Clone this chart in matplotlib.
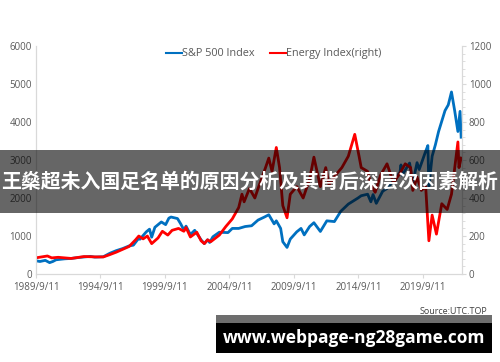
import pandas as pd
import matplotlib.pyplot as plt
from matplotlib.lines import Line2D
from matplotlib.patches import Rectangle
from matplotlib.ticker import MultipleLocator

# S&P 500 Index (left axis)
spx_dates = ["1989-09", "1990-01", "1990-06", "1990-10", "1991-01", "1991-04", "1991-12",
             "1992-06", "1993-01", "1993-12", "1994-04", "1994-12", "1995-06", "1995-12",
             "1996-06", "1996-12", "1997-04", "1997-09", "1997-10", "1998-04", "1998-07",
             "1998-09", "1998-12", "1999-06", "1999-10", "2000-01", "2000-03", "2000-09",
             "2000-12", "2001-03", "2001-05", "2001-09", "2002-01", "2002-07", "2002-10",
             "2003-01", "2003-03", "2003-06", "2003-12", "2004-08", "2004-12", "2005-06",
             "2005-12", "2006-06", "2006-12", "2007-06", "2007-10", "2008-03", "2008-05",
             "2008-09", "2008-11", "2009-03", "2009-06", "2009-12", "2010-04", "2010-07",
             "2010-12", "2011-04", "2011-10", "2012-04", "2012-11", "2013-05", "2013-12",
             "2014-09", "2014-12", "2015-06", "2015-09", "2015-11", "2016-02", "2016-08",
             "2016-12", "2017-12", "2018-01", "2018-02", "2018-09", "2018-12", "2019-04",
             "2019-06", "2019-12", "2020-02", "2020-03", "2020-06", "2020-09", "2020-12",
             "2021-06", "2021-09", "2021-12", "2022-03", "2022-06", "2022-08", "2022-09"]
spx_values = [350, 330, 360, 300, 330, 375, 400,
              410, 435, 465, 445, 455, 545, 615,
              670, 740, 760, 945, 915, 1110, 1180,
              970, 1230, 1370, 1300, 1470, 1500, 1460,
              1320, 1160, 1260, 1040, 1150, 900, 800,
              900, 830, 980, 1100, 1090, 1200, 1200,
              1250, 1270, 1420, 1500, 1560, 1320, 1400,
              1200, 850, 700, 920, 1110, 1200, 1030,
              1250, 1350, 1120, 1400, 1380, 1650, 1840,
              2000, 2060, 2100, 1900, 2090, 1860, 2180,
              2250, 2670, 2870, 2600, 2920, 2400, 2930,
              2750, 3230, 3380, 2300, 3100, 3400, 3750,
              4300, 4450, 4790, 4300, 3750, 4280, 3600]

# Energy Index (right axis)
energy_dates = ["1989-09", "1990-08", "1990-12", "1991-06", "1992-06", "1993-06", "1994-06",
                "1994-12", "1995-06", "1995-12", "1996-06", "1996-12", "1997-06", "1997-09",
                "1998-01", "1998-05", "1998-09", "1999-03", "1999-07", "1999-12", "2000-04",
                "2000-10", "2001-03", "2001-05", "2001-09", "2002-03", "2002-07", "2002-10",
                "2003-01", "2003-04", "2003-12", "2004-06", "2004-12", "2005-06", "2005-09",
                "2005-11", "2006-04", "2006-09", "2006-12", "2007-07", "2007-10", "2008-01",
                "2008-05", "2008-08", "2008-11", "2009-03", "2009-06", "2009-12", "2010-06",
                "2010-12", "2011-04", "2011-10", "2012-03", "2012-06", "2012-12", "2013-06",
                "2013-12", "2014-06", "2014-10", "2014-12", "2015-06", "2015-09", "2016-01",
                "2016-06", "2016-12", "2017-06", "2017-12", "2018-05", "2018-10", "2018-12",
                "2019-04", "2019-08", "2019-12", "2020-03", "2020-06", "2020-10", "2021-03",
                "2021-08", "2021-12", "2022-06", "2022-07", "2022-09"]
energy_values = [85, 95, 85, 88, 82, 92, 90,
                 90, 102, 115, 130, 145, 180, 200,
                 185, 200, 160, 190, 225, 205, 230,
                 240, 225, 245, 195, 220, 175, 160,
                 180, 170, 205, 250, 290, 350, 420,
                 380, 450, 400, 450, 560, 610, 540,
                 666, 560, 360, 296, 420, 460, 400,
                 500, 615, 460, 560, 470, 520, 560,
                 620, 735, 620, 560, 540, 470, 430,
                 520, 580, 480, 530, 580, 560, 440,
                 510, 440, 460, 175, 310, 210, 370,
                 340, 420, 695, 560, 610]

tick_labels = ["1989/9/11", "1994/9/11", "1999/9/11", "2004/9/11",
               "2009/9/11", "2014/9/11", "2019/9/11"]

title_text = "王燊超未入国足名单的原因分析及其背后深层次因素解析"

plt.rcParams['font.family'] = ['Open Sans', 'DejaVu Sans']
grey = "#595959"
line_grey = "#d9d9d9"

fig = plt.figure(figsize=(5, 3.62), dpi=100)
ax = fig.add_axes([0.072, 0.243, 0.852, 0.630])
ax2 = ax.twinx()

spx_x = pd.to_datetime(spx_dates)
en_x = pd.to_datetime(energy_dates)
ax.plot(spx_x, spx_values, color="#0070C0", lw=2.0)
ax2.plot(en_x, energy_values, color="#FF0000", lw=2.0)

ax.set_xlim(pd.Timestamp("1989-09-11"), pd.Timestamp("2022-09-25"))
ax.set_ylim(0, 6000)
ax2.set_ylim(0, 1200)
ax.yaxis.set_major_locator(MultipleLocator(1000))
ax2.yaxis.set_major_locator(MultipleLocator(200))
ax2.yaxis.set_minor_locator(MultipleLocator(40))

ax.set_xticks(pd.to_datetime([t.replace("/", "-") for t in tick_labels]))
ax.set_xticklabels(tick_labels)

for a in (ax, ax2):
    a.spines['top'].set_visible(False)
    for s in ('left', 'right', 'bottom'):
        a.spines[s].set_color(line_grey)
        a.spines[s].set_linewidth(0.8)
    a.tick_params(labelsize=7, labelcolor=grey, color=line_grey)
ax.tick_params(axis='y', length=0, pad=3)
ax.tick_params(axis='x', length=3, pad=3)
ax2.tick_params(axis='y', which='major', length=3, pad=2)
ax2.tick_params(axis='y', which='minor', length=2, color=line_grey)

handles = [Line2D([], [], color="#0070C0", lw=1.5), Line2D([], [], color="#FF0000", lw=1.5)]
fig.legend(handles, ["S&P 500 Index", "Energy Index(right)"], loc='center',
           bbox_to_anchor=(0.548, 0.851), ncol=2, frameon=False, fontsize=7.8,
           handlelength=1.5, handletextpad=0.0, columnspacing=1.4, labelcolor=grey)

# title banner
fig.add_artist(Rectangle((0, 1 - 213 / 362), 1, 63 / 362, transform=fig.transFigure,
                         facecolor="black", alpha=0.6, edgecolor="none", zorder=5))
fig.text(0.5, 1 - 181 / 362, title_text, color="white", fontsize=14.3, fontweight="bold",
         family=['Noto Sans CJK SC', 'DejaVu Sans'], ha='center', va='center', zorder=6)

# source + url box
fig.text(0.974, 1 - 312 / 362, "Source:UTC.TOP", fontsize=6.5, color="#404040",
         ha='right', va='center')
fig.add_artist(Rectangle((216 / 500, 1 - 323 / 362), 276 / 500, 8 / 362,
                         transform=fig.transFigure, facecolor="#6e6e6e",
                         edgecolor="none", zorder=5))
fig.add_artist(Rectangle((216 / 500, 1 - 353 / 362), 276 / 500, 30 / 362,
                         transform=fig.transFigure, facecolor="black",
                         edgecolor="none", zorder=5))
fig.text(354 / 500, 1 - 338 / 362, "www.webpage-ng28game.com", color="white",
         fontsize=12.5, fontweight="bold", ha='center', va='center', zorder=6)

fig.savefig("out.png", dpi=100)
